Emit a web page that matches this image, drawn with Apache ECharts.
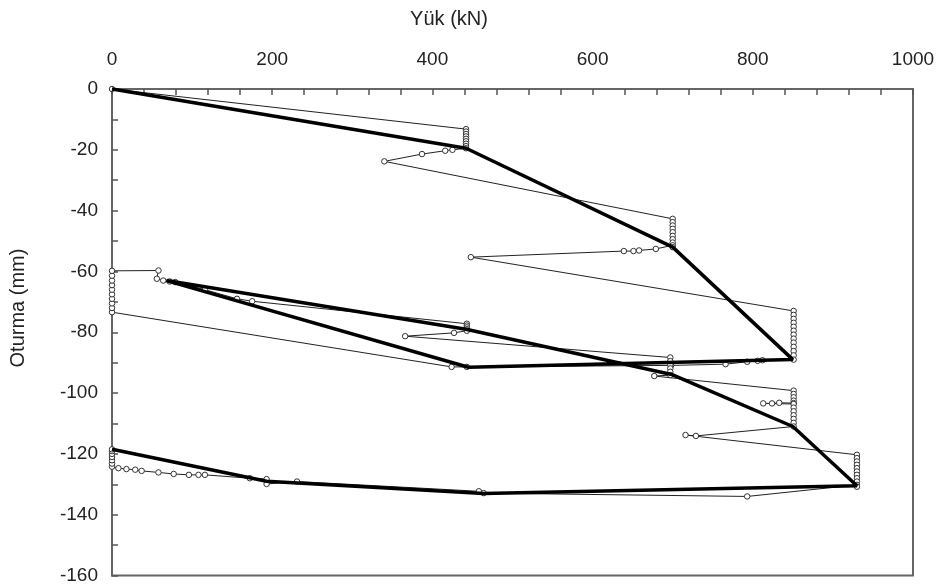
<!DOCTYPE html>
<html>
<head>
<meta charset="utf-8">
<script src="https://cdn.jsdelivr.net/npm/echarts@6/dist/echarts.min.js"></script>
<style>
html,body{margin:0;padding:0;background:#fff;}
#chart{width:946px;height:585px;}
</style>
</head>
<body>
<div id="chart"></div>
<script>
// Envelope (thick line): load (kN) and settlement (mm)
var envLoad   = [0, 442, 700, 850, 445, 68, 442, 700, 850, 930, 464, 193, 0];
var envSettle = [0, -19.5, -52, -89, -91.5, -63, -79, -94, -111, -130.5, -133, -129, -118.5];

// Measured test data (thin line with markers)
var measLoad = [
  0,
  442, 442, 442, 442, 442, 442, 442, 442, 442,
  425, 416, 387, 340,
  700, 700, 700, 700, 700, 700, 700, 700, 700, 700,
  679, 658, 651, 639, 448,
  851, 851, 851, 851, 851, 851, 851, 851, 851, 851, 851, 851, 851,
  812, 806, 793, 766, 698, 443, 424,
  0, 0, 0, 0, 0, 0, 0, 0, 0, 0,
  58, 56, 64, 72, 79, 116, 156, 175,
  443, 443, 443, 443, 443,
  427, 366,
  697, 697, 697, 697, 697, 697,
  677,
  851, 851, 851, 851, 851, 833, 824, 813, 851, 851, 851, 851, 851, 851, 851,
  729, 716,
  930, 930, 930, 930, 930, 930, 930, 930, 930, 930, 930,
  793, 464, 458, 231, 193, 193, 172, 116, 108, 96, 77, 58, 37, 29, 18, 8, 0,
  0, 0, 0, 0, 0, 0
];
var measSettle = [
  0,
  -13.2, -14.0, -14.8, -15.6, -16.4, -17.2, -18.0, -18.8, -19.5,
  -20.0, -20.3, -21.4, -23.8,
  -42.7, -43.8, -44.9, -46.0, -47.1, -48.3, -49.4, -50.5, -51.4, -52.0,
  -52.6, -53.1, -53.3, -53.3, -55.3,
  -73.0, -74.3, -75.6, -76.9, -78.2, -79.5, -80.8, -82.1, -83.4, -84.8, -86.2, -87.6, -89.0,
  -89.2, -89.4, -89.7, -90.5, -90.9, -91.4, -91.4,
  -73.4, -72.0, -70.5, -69.0, -67.5, -66.0, -64.5, -63.0, -61.4, -59.8,
  -59.7, -62.4, -63.0, -63.3, -63.5, -66.0, -69.0, -69.8,
  -77.2, -77.8, -78.4, -79.0, -79.5,
  -80.2, -81.3,
  -88.3, -89.5, -90.7, -91.9, -93.0, -94.1,
  -94.4,
  -99.2, -100.3, -101.4, -102.5, -103.3, -103.2, -103.4, -103.4, -103.6, -104.8, -106.0, -107.3, -108.5, -109.8, -111.0,
  -114.1, -113.8,
  -120.3, -121.4, -122.5, -123.6, -124.7, -125.8, -126.9, -128.0, -129.1, -130.2, -130.8,
  -134.0, -132.9, -132.3, -129.1, -129.9, -128.3, -128.0, -126.9, -126.9, -126.9, -126.6, -126.1, -125.6, -125.2, -125.0, -124.7, -124.2,
  -123.2, -122.1, -121.0, -120.0, -119.1, -118.5
];

var xTicks = [0, 200, 400, 600, 800, 1000];
var yTicks = [0, -20, -40, -60, -80, -100, -120, -140, -160];
var xTitle = 'Yük (kN)';
var yTitle = 'Oturma (mm)';

function pairs(a, b) { return a.map(function (v, i) { return [v, b[i]]; }); }

var chart = echarts.init(document.getElementById('chart'));
var font = 'Liberation Sans, Arial, sans-serif';
chart.setOption({
  animation: false,
  backgroundColor: '#fff',
  graphic: [
    { type: 'text', x: 449, y: 19, style: { text: xTitle, font: '20px ' + font, fill: '#222', textAlign: 'center', textVerticalAlign: 'middle' } },
    { type: 'text', x: 18, y: 308, rotation: Math.PI / 2, style: { text: yTitle, font: '20px ' + font, fill: '#222', textAlign: 'center', textVerticalAlign: 'middle' } }
  ],
  grid: { left: 112, right: 33, top: 89, bottom: 9, show: true, borderColor: '#666', borderWidth: 2, backgroundColor: 'transparent' },
  xAxis: {
    type: 'value', position: 'top',
    min: xTicks[0], max: xTicks[xTicks.length - 1], interval: 200,
    axisLine: { show: true, lineStyle: { color: '#666', width: 2 } },
    axisTick: { show: true, inside: true, length: 6, lineStyle: { color: '#555', width: 1.5 } },
    minorTick: { show: true, splitNumber: 5, length: 6, lineStyle: { color: '#555', width: 1.5 } },
    axisLabel: { fontFamily: font, fontSize: 19, color: '#222', margin: 20, formatter: function (v) { return String(v); } },
    splitLine: { show: false }
  },
  yAxis: {
    type: 'value',
    min: yTicks[yTicks.length - 1], max: yTicks[0], interval: 20,
    axisLine: { show: true, lineStyle: { color: '#666', width: 2 } },
    axisTick: { show: true, inside: true, length: 6, lineStyle: { color: '#555', width: 1.5 } },
    minorTick: { show: true, splitNumber: 2, length: 6, lineStyle: { color: '#555', width: 1.5 } },
    axisLabel: { fontFamily: font, fontSize: 19, color: '#222', margin: 14, formatter: function (v) { return String(v); } },
    splitLine: { show: false }
  },
  series: [
    {
      type: 'line', name: 'measured', clip: false,
      data: pairs(measLoad, measSettle),
      symbol: 'circle', symbolSize: 5.5, showAllSymbol: true,
      lineStyle: { color: '#222', width: 1 },
      itemStyle: { color: '#fff', borderColor: '#333', borderWidth: 1 },
      z: 2
    },
    {
      type: 'line', name: 'envelope', clip: false,
      data: pairs(envLoad, envSettle),
      symbol: 'none',
      lineStyle: { color: '#000', width: 3.5 },
      z: 3
    }
  ]
});
</script>
</body>
</html>
